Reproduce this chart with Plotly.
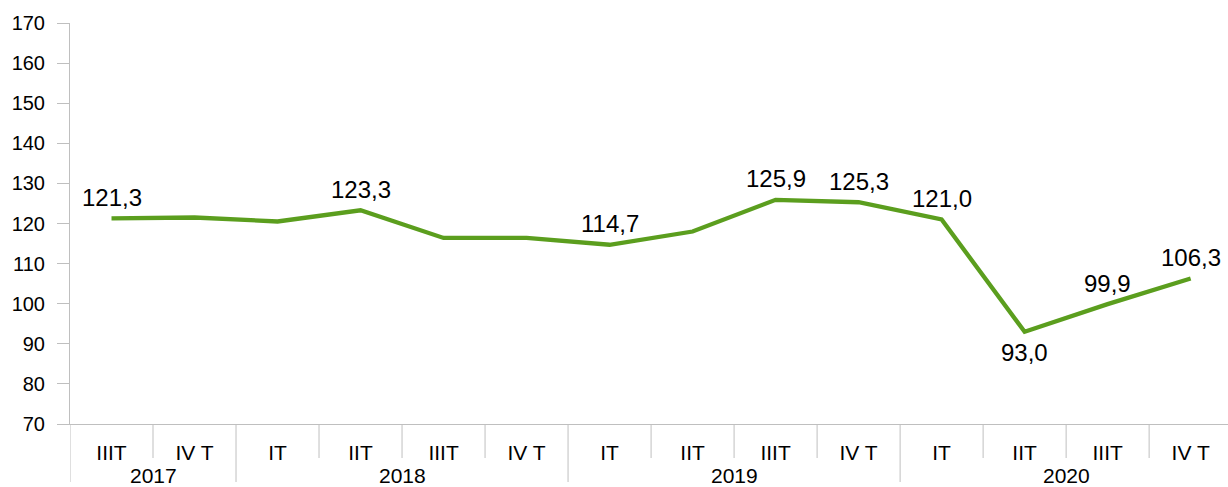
import plotly.graph_objects as go

years = ["2017", "2017", "2018", "2018", "2018", "2018", "2019", "2019", "2019", "2019", "2020", "2020", "2020", "2020"]
quarters = ["IIIT", "IV T", "IT", "IIT", "IIIT", "IV T", "IT", "IIT", "IIIT", "IV T", "IT", "IIT", "IIIT", "IV T"]
values = [121.3, 121.5, 120.5, 123.3, 116.4, 116.4, 114.7, 118.0, 125.9, 125.3, 121.0, 93.0, 99.9, 106.3]
labels = ["121,3", "", "", "123,3", "", "", "114,7", "", "125,9", "125,3", "121,0", "93,0", "99,9", "106,3"]
label_below = [False] * 11 + [True] + [False] * 2

font = "Liberation Sans, Arial, sans-serif"
grey = "#BFBFBF"
keys = [f"{y} {q} {i}" for i, (y, q) in enumerate(zip(years, quarters))]
n = len(keys)

fig = go.Figure(go.Scatter(
    x=keys,
    y=values,
    mode="lines",
    line=dict(color="#5B9E1E", width=4.3),
    hoverinfo="skip",
))

# data labels
for k, v, t, below in zip(keys, values, labels, label_below):
    if t:
        fig.add_annotation(
            x=k, y=v, text=t, showarrow=False,
            yanchor="middle", yshift=-21 if below else 21,
            font=dict(family=font, size=24, color="#000000"),
        )

# category dividers below the axis: short between quarters, long between years
shapes = []
for i in range(n + 1):
    is_year_edge = i == 0 or i == n or years[i] != years[i - 1]
    length = 58 if is_year_edge else 34
    shapes.append(dict(
        type="line", xref="x", yref="paper", ysizemode="pixel", yanchor=0,
        x0=i - 0.5, x1=i - 0.5, y0=0, y1=-length,
        line=dict(color=grey, width=1),
    ))
fig.update_layout(shapes=shapes)

# year labels
year_list = []
for y in years:
    if y not in year_list:
        year_list.append(y)
for y in year_list:
    idx = [i for i, yy in enumerate(years) if yy == y]
    fig.add_annotation(
        x=(idx[0] + idx[-1]) / 2, y=0, xref="x", yref="paper",
        text=y, showarrow=False, yanchor="middle", yshift=-51,
        font=dict(family=font, size=21, color="#000000"),
    )

fig.update_layout(
    width=1228, height=487,
    margin=dict(l=70, r=0, t=23, b=63),
    paper_bgcolor="white", plot_bgcolor="white",
    showlegend=False,
    font=dict(family=font, size=20, color="#000000"),
)
fig.update_xaxes(
    type="category",
    range=[-0.5, n - 0.55],
    tickvals=keys, ticktext=quarters,
    showline=True, linecolor=grey, linewidth=1,
    ticks="", ticklabelstandoff=10,
    showgrid=False,
    tickfont=dict(family=font, size=21, color="#000000"),
)
fig.update_yaxes(
    range=[70, 170], dtick=10, tick0=70,
    showline=True, linecolor=grey, linewidth=1,
    ticks="outside", ticklen=12, tickcolor=grey,
    ticklabelstandoff=8,
    showgrid=False, zeroline=False,
    tickfont=dict(family=font, size=20, color="#000000"),
)

fig.write_html(
    "out.html",
    config={"displayModeBar": False},
    post_script="document.body.style.margin='0';document.body.style.overflow='hidden';",
)
